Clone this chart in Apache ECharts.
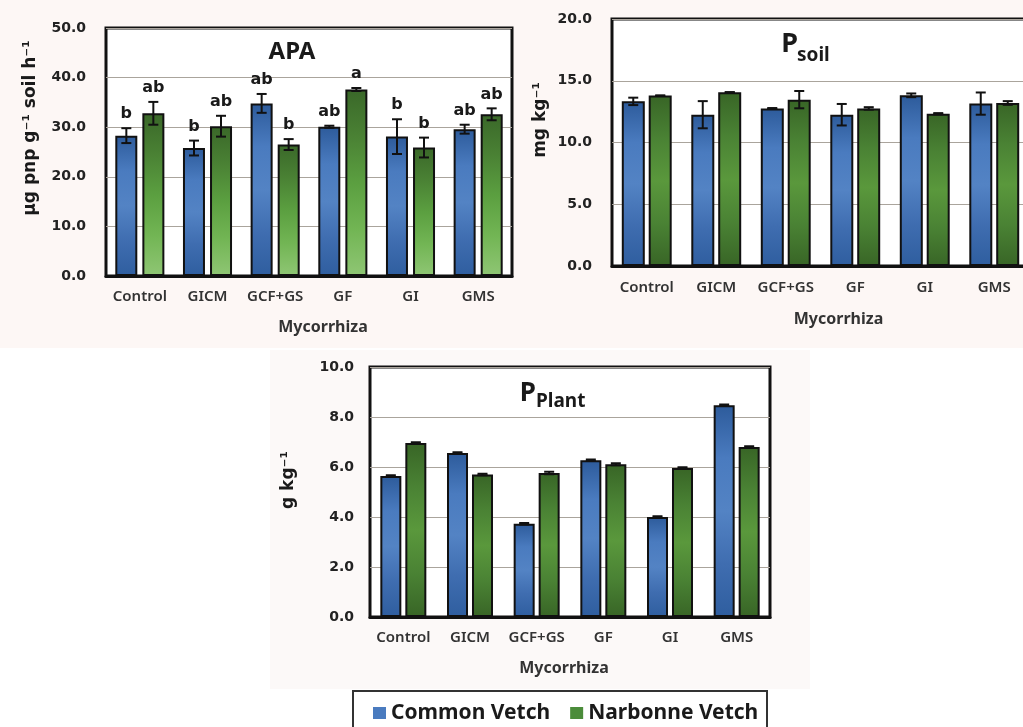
<!DOCTYPE html>
<html>
<head>
<meta charset="utf-8">
<script src="https://cdn.jsdelivr.net/npm/echarts@6/dist/echarts.min.js"></script>
<style>
html,body{margin:0;padding:0;background:#ffffff;overflow:hidden;}
#chart{width:1032px;height:727px;}
</style>
</head>
<body>
<div id="chart"></div>
<script>
// ---------- data ----------
const categories = ['Control', 'GICM', 'GCF+GS', 'GF', 'GI', 'GMS'];
const seriesNames = ['Common Vetch', 'Narbonne Vetch'];

const apaCommon = [28.3, 25.8, 34.8, 30.1, 28.1, 29.6];
const apaCommonErr = [1.5, 1.5, 1.9, 0.2, 3.5, 0.9];
const apaNarbonne = [32.8, 30.2, 26.5, 37.6, 25.9, 32.6];
const apaNarbonneErr = [2.3, 2.1, 1.1, 0.3, 2.0, 1.2];
const apaCommonLetters = ['b', 'b', 'ab', 'ab', 'b', 'ab'];
const apaNarbonneLetters = ['ab', 'ab', 'b', 'a', 'b', 'ab'];

const psoilCommon = [13.33, 12.25, 12.76, 12.25, 13.82, 13.15];
const psoilCommonErr = [0.3, 1.1, 0.03, 0.87, 0.15, 0.9];
const psoilNarbonne = [13.8, 14.07, 13.47, 12.76, 12.33, 13.2];
const psoilNarbonneErr = [0.0, 0.0, 0.7, 0.1, 0.05, 0.15];

const pplantCommon = [5.64, 6.56, 3.73, 6.27, 4.0, 8.47];
const pplantCommonErr = [0.03, 0.03, 0.03, 0.03, 0.03, 0.03];
const pplantNarbonne = [6.96, 5.7, 5.76, 6.11, 5.96, 6.8];
const pplantNarbonneErr = [0.03, 0.03, 0.05, 0.04, 0.03, 0.03];

const apaTicks = {min: 0, max: 50, interval: 10};
const psoilTicks = {min: 0, max: 20, interval: 5};
const pplantTicks = {min: 0, max: 10, interval: 2};

// ---------- styles ----------
const TICK_FONT = 'DejaVu Sans';
const TXT_FONT = 'Noto Sans';
function grad(stops) {
  return new echarts.graphic.LinearGradient(0, 0, 0, 1, stops.map((c, i) => ({offset: i / (stops.length - 1), color: c})));
}
const blueGrad = () => grad(['#2d5b9b', '#4a7bbf', '#5383c4', '#3f6db0', '#2f5e9f']);
const greenGradApa = () => grad(['#3a6829', '#4a8134', '#5b9f40', '#72b554', '#8fc674']);
const greenGrad = () => grad(['#386526', '#4a8234', '#5a983c', '#4a8234', '#386526']);
const blueSolid = '#4a7bbf', greenSolid = '#4b8c3a';

function errRender(offset, letters) {
  return function (params, api) {
    const i = api.value(0), v = api.value(1), e = api.value(2);
    const c = api.coord([i, v]);
    const x = c[0] + offset;
    const top = api.coord([i, v + e])[1];
    const bot = api.coord([i, v - e])[1];
    const hw = 5;
    const st = {stroke: '#111', lineWidth: 2};
    const children = [
      {type: 'line', shape: {x1: x, y1: top, x2: x, y2: bot}, style: st},
      {type: 'line', shape: {x1: x - hw, y1: top, x2: x + hw, y2: top}, style: st},
      {type: 'line', shape: {x1: x - hw, y1: bot, x2: x + hw, y2: bot}, style: st}
    ];
    if (letters) {
      children.push({
        type: 'text', x: x, y: top - 6,
        style: {text: letters[i], fill: '#1a1a1a', font: 'bold 16px "DejaVu Sans"', align: 'center', verticalAlign: 'bottom'}
      });
    }
    return {type: 'group', children: children};
  };
}

const grids = [
  {left: 106, top: 28, width: 406, height: 248},
  {left: 612, top: 19, width: 417, height: 247},
  {left: 370, top: 367, width: 400, height: 250}
];
const barCfg = [
  {bw: 22, gap: '23%', off: 13.5, ticks: apaTicks, xname: {gap: 43, shift: 14}, labelMargin: 13},
  {bw: 23, gap: '17%', off: 13.5, ticks: psoilTicks, xname: {gap: 45, shift: 18}, labelMargin: 14},
  {bw: 21, gap: '19%', off: 12.5, ticks: pplantTicks, xname: {gap: 43, shift: -6}, labelMargin: 13}
];

const xAxes = [], yAxes = [], series = [];
const dataSets = [
  [apaCommon, apaCommonErr, apaNarbonne, apaNarbonneErr, apaCommonLetters, apaNarbonneLetters, greenGradApa],
  [psoilCommon, psoilCommonErr, psoilNarbonne, psoilNarbonneErr, null, null, greenGrad],
  [pplantCommon, pplantCommonErr, pplantNarbonne, pplantNarbonneErr, null, null, greenGrad]
];

grids.forEach((g, k) => {
  const cfg = barCfg[k];
  const pad = cfg.xname.shift >= 0 ? [0, 0, 0, cfg.xname.shift * 2] : [0, -cfg.xname.shift * 2, 0, 0];
  xAxes.push({
    type: 'category', gridIndex: k, data: categories,
    axisLine: {show: true, lineStyle: {color: '#111', width: 3}},
    axisTick: {show: false},
    axisLabel: {interval: 0, margin: cfg.labelMargin, fontFamily: TXT_FONT, fontWeight: 600, fontSize: 15, color: '#333'},
    name: 'Mycorrhiza', nameLocation: 'middle', nameGap: cfg.xname.gap,
    nameTextStyle: {fontFamily: TXT_FONT, fontWeight: 'bold', fontSize: 16, color: '#333', padding: pad, verticalAlign: 'top'}
  });
  yAxes.push({
    type: 'value', gridIndex: k, min: cfg.ticks.min, max: cfg.ticks.max, interval: cfg.ticks.interval,
    axisLine: {show: false}, axisTick: {show: false},
    axisLabel: {margin: k === 2 ? 16 : 20, fontFamily: TICK_FONT, fontWeight: 'bold', fontSize: 14, color: '#222',
      formatter: v => v.toFixed(1)},
    splitLine: {show: true, lineStyle: {color: '#aaa49c', width: 1.2}}
  });
  const d = dataSets[k];
  series.push({
    name: seriesNames[0], type: 'bar', xAxisIndex: k, yAxisIndex: k, data: d[0],
    barWidth: cfg.bw, barGap: cfg.gap,
    itemStyle: {color: blueGrad(), borderColor: '#111', borderWidth: 2}
  });
  series.push({
    name: seriesNames[1], type: 'bar', xAxisIndex: k, yAxisIndex: k, data: d[2],
    barWidth: cfg.bw, barGap: cfg.gap,
    itemStyle: {color: d[6](), borderColor: '#111', borderWidth: 2}
  });
  series.push({
    name: 'err-' + k + '-a', type: 'custom', xAxisIndex: k, yAxisIndex: k, z: 5,
    renderItem: errRender(-cfg.off, d[4]), encode: {x: 0, y: 1},
    data: d[0].map((v, i) => [i, v, d[1][i]])
  });
  series.push({
    name: 'err-' + k + '-b', type: 'custom', xAxisIndex: k, yAxisIndex: k, z: 5,
    renderItem: errRender(cfg.off, d[5]), encode: {x: 0, y: 1},
    data: d[2].map((v, i) => [i, v, d[3][i]])
  });
});

const option = {
  animation: false,
  backgroundColor: '#ffffff',
  grid: grids.map(g => Object.assign({show: true, borderColor: '#111', borderWidth: 3, backgroundColor: '#ffffff', containLabel: false}, g)),
  xAxis: xAxes,
  yAxis: yAxes,
  series: series,
  legend: {
    data: [
      {name: seriesNames[0], itemStyle: {color: blueSolid, borderWidth: 0}},
      {name: seriesNames[1], itemStyle: {color: greenSolid, borderWidth: 0}}
    ],
    left: 373, top: 701, padding: 0, itemGap: 20, itemWidth: 13, itemHeight: 12, icon: 'rect',
    textStyle: {fontFamily: TXT_FONT, fontWeight: 'bold', fontSize: 21, lineHeight: 24, color: '#1a1a1a'},
    selectedMode: false
  },
  graphic: [
    {type: 'rect', z: -10, shape: {x: 0, y: 0, width: 1032, height: 348}, style: {fill: '#fdf7f5'}, silent: true},
    {type: 'rect', z: -10, shape: {x: 270, y: 350, width: 540, height: 339}, style: {fill: '#fcf9f8'}, silent: true},
    {type: 'rect', z: -5, shape: {x: 353, y: 691, width: 414, height: 50}, style: {fill: '#ffffff', stroke: '#333', lineWidth: 2}, silent: true},
    // titles
    {type: 'text', x: 292, y: 52, z: 10, style: {text: 'APA', font: 'bold 24px "Noto Sans"', fill: '#1a1a1a', align: 'center', verticalAlign: 'middle'}},
    {type: 'text', x: 798, y: 44, z: 10, style: {text: 'P', font: 'bold 27px "Noto Sans"', fill: '#1a1a1a', align: 'right', verticalAlign: 'middle'}},
    {type: 'text', x: 797, y: 56, z: 10, style: {text: 'soil', font: 'bold 19px "Noto Sans"', fill: '#1a1a1a', align: 'left', verticalAlign: 'middle'}},
    {type: 'text', x: 536, y: 394, z: 10, style: {text: 'P', font: 'bold 26px "Noto Sans"', fill: '#1a1a1a', align: 'right', verticalAlign: 'middle'}},
    {type: 'text', x: 536, y: 402, z: 10, style: {text: 'Plant', font: 'bold 19px "Noto Sans"', fill: '#1a1a1a', align: 'left', verticalAlign: 'middle'}},
    // y-axis names
    {type: 'text', x: 31, y: 128, rotation: Math.PI / 2, z: 10, style: {text: 'µg pnp g⁻¹ soil h⁻¹', font: 'bold 17px "DejaVu Sans"', fill: '#1a1a1a', align: 'center', verticalAlign: 'middle'}},
    {type: 'text', x: 541, y: 120, rotation: Math.PI / 2, z: 10, style: {text: 'mg kg⁻¹', font: 'bold 17px "DejaVu Sans"', fill: '#1a1a1a', align: 'center', verticalAlign: 'middle'}},
    {type: 'text', x: 289, y: 480, rotation: Math.PI / 2, z: 10, style: {text: 'g kg⁻¹', font: 'bold 17px "DejaVu Sans"', fill: '#1a1a1a', align: 'center', verticalAlign: 'middle'}}
  ]
};

const chart = echarts.init(document.getElementById('chart'), null, {renderer: 'canvas'});
chart.setOption(option);
</script>
</body>
</html>
